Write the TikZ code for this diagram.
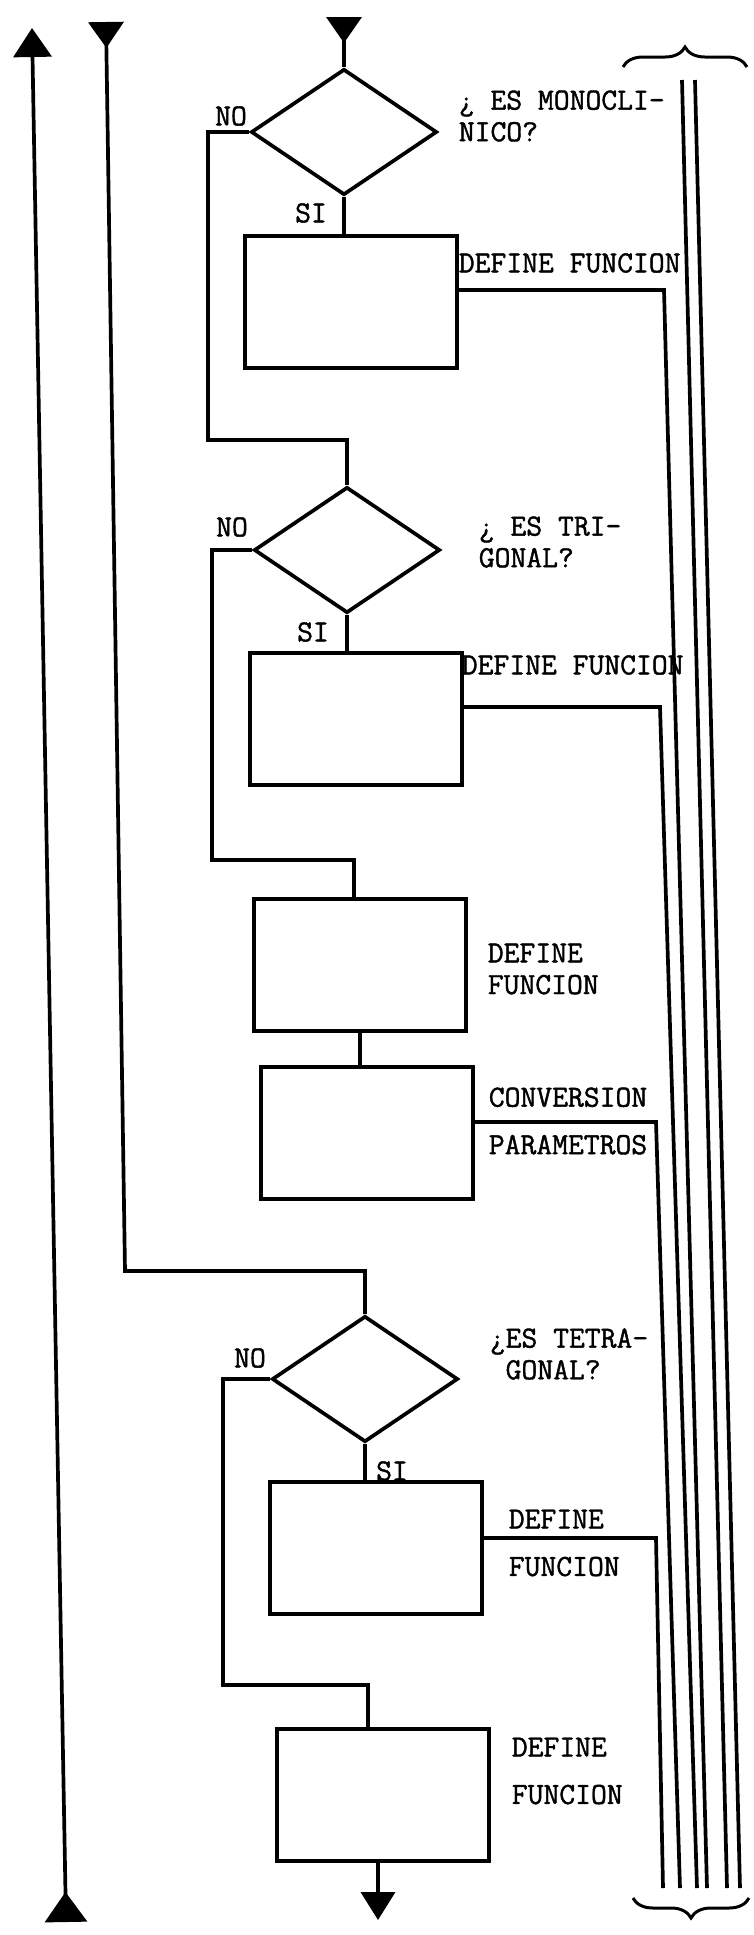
\documentclass[tikz,border=0pt]{standalone}
\usepackage{fontspec}
\usepackage{tikz}
\usetikzlibrary{shapes.geometric,arrows.meta,decorations.pathreplacing}
\newfontfamily\scanfont{Latin Modern Mono}[FakeBold=1.3]

\begin{document}
\begin{tikzpicture}[x=0.02cm, y=-0.02cm, line width=2.1pt,
    decision/.style={draw, diamond, minimum width=3.72cm, minimum height=2.52cm, inner sep=0pt},
    procbox/.style={draw, rectangle, minimum width=4.24cm, minimum height=2.64cm, inner sep=0pt},
    lbl/.style={font=\fontsize{17.5}{18}\selectfont\scanfont\bfseries, inner sep=0pt, anchor=west, align=left},
    lblwide/.style={lbl, font=\fontsize{17.5}{27}\selectfont\scanfont\bfseries},
    tipin/.style={{Triangle[reversed, width=0.7cm, length=0.52cm]}-},
    tipout/.style={-{Triangle[width=0.68cm, length=0.56cm]}},
    curly/.style={decorate, decoration={brace, amplitude=0.4cm}, line width=1.7pt}]
    \useasboundingbox (0,0) rectangle (754,1935);

    \node[decision] (mono) at (344,132) {};
    \node[procbox] (fnmono) at (351,302) {};
    \node[decision] (trig) at (347,550) {};
    \node[procbox] (fntrig) at (356,719) {};
    \node[procbox] (fnhex) at (360,965) {};
    \node[procbox] (conv) at (367,1133) {};
    \node[decision] (tetra) at (365,1379) {};
    \node[procbox] (fntetra) at (376,1548) {};
    \node[procbox] (fnrest) at (383,1795) {};

    \node[lbl] (qmono) at (457,116) {¿ ES MONOCLI-\\NICO?};
    \node[lbl] (qtrig) at (477,542) {¿ ES TRI-\\GONAL?};
    \node[lbl] (qtetra) at (488,1354) {¿ES TETRA-\\\hphantom{¿}GONAL?};
    \node[lbl] (lmono) at (457,263) {DEFINE FUNCION};
    \node[lbl] (ltrig) at (460,665) {DEFINE FUNCION};
    \node[lbl] (lhex) at (486,969) {DEFINE\\FUNCION};
    \node[lblwide] (lconv) at (487,1121) {CONVERSION\\PARAMETROS};
    \node[lblwide] (ltetra) at (507,1543) {DEFINE\\FUNCION};
    \node[lblwide] (lrest) at (510,1771) {DEFINE\\FUNCION};

    \node[lbl, anchor=center] (nomono) at (231,116) {NO};
    \node[lbl, anchor=center] (simono) at (311,213) {SI};
    \node[lbl, anchor=center] (notrig) at (232,527) {NO};
    \node[lbl, anchor=center] (sitrig) at (313,632) {SI};
    \node[lbl, anchor=center] (notetra) at (250,1358) {NO};
    \node[lbl, anchor=center] (sitetra) at (392,1471) {SI};

    \coordinate (inmono) at (344,17);
    \coordinate (inloop) at (106,22);
    \coordinate (loopturn) at (125,1271);
    \coordinate (jtrig) at (347,440);
    \coordinate (jhex) at (354,860);
    \coordinate (jtetra) at (365,1271);
    \coordinate (jrest) at (368,1685);
    \coordinate (out) at (378,1920);
    \coordinate (backtop) at (32,28);
    \coordinate (backbot) at (66,1922);
    \coordinate (r1) at (664,290);
    \coordinate (r1e) at (707,1888);
    \coordinate (r2) at (660,707);
    \coordinate (r2e) at (697,1888);
    \coordinate (r3) at (656,1122);
    \coordinate (r3e) at (680,1888);
    \coordinate (r4) at (656,1538);
    \coordinate (r4e) at (663,1888);
    \coordinate (t1) at (682,80);
    \coordinate (t1e) at (727,1888);
    \coordinate (t2) at (695,80);
    \coordinate (t2e) at (740,1888);

    \draw[tipin] (inmono) -- (mono.north);
    \draw (mono.south) -- (mono.south |- fnmono.north);
    \draw (mono.west) -- ++(-41,0) |- (jtrig) -- (trig.north);
    \draw (trig.south) -- (trig.south |- fntrig.north);
    \draw (trig.west) -- ++(-40,0) |- (jhex) -- (jhex |- fnhex.north);
    \draw (fnhex.south) -- (fnhex.south |- conv.north);
    \draw[tipin] (inloop) -- (loopturn) -- (jtetra) -- (tetra.north);
    \draw (tetra.south) -- (tetra.south |- fntetra.north);
    \draw (tetra.west) -- ++(-47,0) |- (jrest) -- (jrest |- fnrest.north);
    \draw[tipout] (out |- fnrest.south) -- (out);
    \draw[{Triangle[reversed, width=0.84cm, length=0.6cm]}-{Triangle[width=0.76cm, length=0.58cm]}] (backbot) -- (backtop);

    \draw ([yshift=0.24cm]fnmono.east) -- (r1) -- (r1e);
    \draw ([yshift=0.24cm]fntrig.east) -- (r2) -- (r2e);
    \draw ([yshift=0.22cm]conv.east) -- (r3) -- (r3e);
    \draw ([yshift=0.2cm]fntetra.east) -- (r4) -- (r4e);
    \draw (t1) -- (t1e);
    \draw (t2) -- (t2e);

    \draw[curly] (623,67) -- (747,67);
    \draw[curly] (749,1898) -- (633,1898);
\end{tikzpicture}
\end{document}
